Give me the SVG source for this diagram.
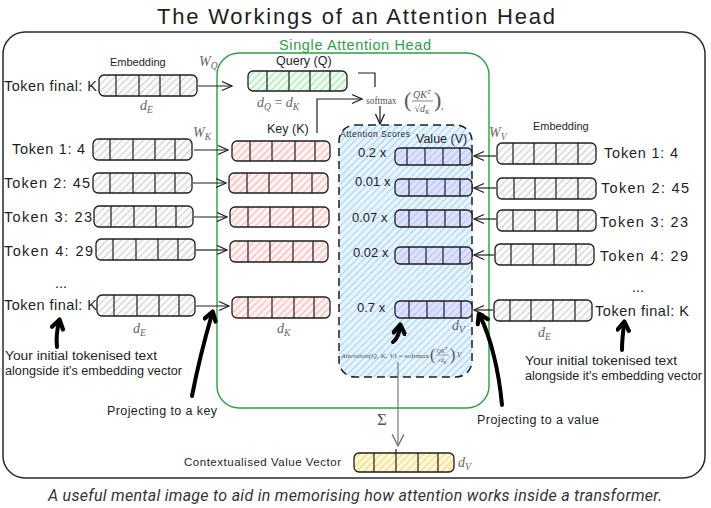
<svg xmlns="http://www.w3.org/2000/svg" width="711" height="508" viewBox="0 0 711 508">
<defs>
<pattern id="hg" width="5" height="5" patternUnits="userSpaceOnUse" patternTransform="rotate(45)"><rect width="5" height="5" fill="#fafafa"/><line x1="0.5" y1="0" x2="0.5" y2="5" stroke="#cfcfcf" stroke-width="1.1"/></pattern>
<pattern id="hr" width="5" height="5" patternUnits="userSpaceOnUse" patternTransform="rotate(45)"><rect width="5" height="5" fill="#fff3f3"/><line x1="0.5" y1="0" x2="0.5" y2="5" stroke="#ffafaf" stroke-width="1.1"/></pattern>
<pattern id="hq" width="5" height="5" patternUnits="userSpaceOnUse" patternTransform="rotate(45)"><rect width="5" height="5" fill="#effbf1"/><line x1="0.5" y1="0" x2="0.5" y2="5" stroke="#a3e4ad" stroke-width="1.1"/></pattern>
<pattern id="hv" width="5" height="5" patternUnits="userSpaceOnUse" patternTransform="rotate(45)"><rect width="5" height="5" fill="#dde3ff"/><line x1="0.5" y1="0" x2="0.5" y2="5" stroke="#b4bff8" stroke-width="1.1"/></pattern>
<pattern id="ha" width="5" height="5" patternUnits="userSpaceOnUse" patternTransform="rotate(45)"><rect width="5" height="5" fill="#e8f4fe"/><line x1="0.5" y1="0" x2="0.5" y2="5" stroke="#a2d2f6" stroke-width="1.1"/></pattern>
<pattern id="hy" width="5" height="5" patternUnits="userSpaceOnUse" patternTransform="rotate(45)"><rect width="5" height="5" fill="#fff8d8"/><line x1="0.5" y1="0" x2="0.5" y2="5" stroke="#f3d66b" stroke-width="1.1"/></pattern>
<marker id="ah" viewBox="0 0 12 12" refX="11" refY="6" markerWidth="12" markerHeight="12" markerUnits="userSpaceOnUse" orient="auto"><path d="M1,1.5 L11,6 L1,10.5" fill="none" stroke="#1e1e1e" stroke-width="1.3"/></marker>
<marker id="ag" viewBox="0 0 12 12" refX="6" refY="11" markerWidth="14" markerHeight="16" markerUnits="userSpaceOnUse" orient="0"><path d="M1,1 L6,11 L11,1" fill="none" stroke="#777" stroke-width="1.2"/></marker>
<marker id="tk" viewBox="0 0 12 12" refX="7" refY="6" markerWidth="15" markerHeight="15" markerUnits="userSpaceOnUse" orient="auto"><path d="M2,1.5 L9,6 L2,10.5" fill="none" stroke="#000" stroke-width="3.4" stroke-linejoin="round" stroke-linecap="round"/></marker>
<style>
.t{font-family:"Liberation Sans",Arial,sans-serif;fill:#1e1e1e}
.tok{font-size:14.5px}
.sm{font-size:11px}
.lb{font-size:12.5px}
.an{font-size:12.5px}
.m{font-family:"Liberation Serif","Times New Roman",serif;font-style:italic;fill:#666;font-size:14px}
.mr{font-family:"Liberation Serif","Times New Roman",serif;fill:#555}
.box{stroke:#1e1e1e;stroke-width:1.3}
.dv{stroke:#1e1e1e;stroke-width:1.2}
.ar{stroke:#1e1e1e;stroke-width:1.2;fill:none}
.th{stroke:#000;stroke-width:4;fill:none;stroke-linecap:round}
</style>
</defs>
<rect width="711" height="508" fill="#ffffff"/>

<g id="title"><text class="t" x="356" y="24" font-size="22" text-anchor="middle" textLength="398" lengthAdjust="spacing">The Workings of an Attention Head</text></g>
<g id="frame"><rect x="3" y="32" width="702" height="446" rx="22" fill="none" stroke="#2a2a2a" stroke-width="1.5"/></g>
<g id="head"><rect x="217" y="53" width="272" height="355" rx="22" fill="none" stroke="#2f9e44" stroke-width="1.4"/>
<text class="t" x="355" y="50" font-size="14.5" text-anchor="middle" style="fill:#2f9e44" textLength="152" lengthAdjust="spacing">Single Attention Head</text></g>

<g id="attention-scores"><rect x="339" y="125" width="133" height="252" rx="16" fill="url(#ha)" stroke="#1e1e1e" stroke-width="1.5" stroke-dasharray="8 5"/>
<text class="t" x="340" y="137" font-size="8.5" textLength="70" lengthAdjust="spacing">Attention Scores</text>
<text class="t" x="416" y="143" font-size="12.5">Value (V)</text>
<text class="t" x="358" y="157" font-size="13">0.2 x</text>
<text class="t" x="355" y="186" font-size="13">0.01 x</text>
<text class="t" x="352" y="222" font-size="13">0.07 x</text>
<text class="t" x="353" y="257" font-size="13">0.02 x</text>
<text class="t" x="357" y="312" font-size="13">0.7 x</text>
<text class="mr" x="341" y="358" font-size="7" textLength="88" lengthAdjust="spacingAndGlyphs"><tspan font-style="italic">Attention(Q, K, V)</tspan> = softmax</text>
<text class="mr" x="430" y="360" font-size="16">(</text>
<text class="mr" x="442" y="353" font-size="6" text-anchor="middle" font-style="italic">QK<tspan baseline-shift="3" font-size="4.5">T</tspan></text>
<line x1="436" y1="355" x2="449" y2="355" stroke="#555" stroke-width="0.5"/>
<text class="mr" x="442" y="362" font-size="6" text-anchor="middle">√<tspan font-style="italic">d<tspan baseline-shift="-1.5" font-size="4.5">K</tspan></tspan></text>
<text class="mr" x="450" y="360" font-size="16">)</text>
<text class="mr" x="457" y="358" font-size="7.5" font-style="italic">V</text>
</g>

<!-- Left embeddings -->
<g id="emb-top"><text class="t sm" x="110" y="66">Embedding</text>
<text class="t tok" x="4" y="91" textLength="93" lengthAdjust="spacing">Token final: K</text>
<rect class="box" x="99" y="75" width="98" height="21" rx="5" fill="url(#hg)"/>
<path class="dv" d="M116,75V96M139,75V96M160,75V96M180,75V96"/>
<text class="m" x="140" y="110">d<tspan font-size="9.5" baseline-shift="-3">E</tspan></text></g>

<g id="emb-l1"><text class="t tok" x="12" y="154" textLength="73" lengthAdjust="spacing">Token 1: 4</text>
<rect class="box" x="93" y="139" width="99" height="21" rx="5" fill="url(#hg)"/>
<path class="dv" d="M110,139V160M133,139V160M155,139V160M175,139V160"/></g>
<g id="emb-l2"><text class="t tok" x="4" y="188" textLength="86" lengthAdjust="spacing">Token 2: 45</text>
<rect class="box" x="93" y="173" width="99" height="20" rx="5" fill="url(#hg)"/>
<path class="dv" d="M110,173V193M133,173V193M155,173V193M175,173V193"/></g>
<g id="emb-l3"><text class="t tok" x="4" y="222" textLength="88" lengthAdjust="spacing">Token 3: 23</text>
<rect class="box" x="94" y="206" width="99" height="21" rx="5" fill="url(#hg)"/>
<path class="dv" d="M111,206V227M134,206V227M156,206V227M176,206V227"/></g>
<g id="emb-l4"><text class="t tok" x="4" y="256" textLength="89" lengthAdjust="spacing">Token 4: 29</text>
<rect class="box" x="96" y="239" width="99" height="21" rx="5" fill="url(#hg)"/>
<path class="dv" d="M113,239V260M136,239V260M158,239V260M178,239V260"/></g>
<g id="emb-lf"><text class="t tok" x="55" y="288">...</text>
<text class="t tok" x="4" y="310" textLength="93" lengthAdjust="spacing">Token final: K</text>
<rect class="box" x="97" y="295" width="98" height="21" rx="5" fill="url(#hg)"/>
<path class="dv" d="M114,295V316M137,295V316M159,295V316M179,295V316"/>
<text class="m" x="133" y="333">d<tspan font-size="9.5" baseline-shift="-3">E</tspan></text></g>

<!-- Query -->
<g id="query"><text class="t" x="276" y="65" font-size="12.5">Query (Q)</text>
<rect class="box" x="248" y="71" width="99" height="20" rx="5" fill="url(#hq)"/>
<path class="dv" d="M267,71V91M289,71V91M310,71V91M330,71V91"/>
<text class="m" x="257" y="107">d<tspan font-size="9.5" baseline-shift="-3">Q</tspan><tspan font-style="normal"> = </tspan>d<tspan font-size="9.5" baseline-shift="-3">K</tspan></text></g>

<g id="softmax"><text class="mr" x="366" y="104" font-size="9.5">softmax</text>
<text class="mr" x="404" y="107" font-size="22">(</text>
<text class="mr" x="422" y="98" font-size="10" text-anchor="middle" font-style="italic">QK<tspan baseline-shift="4" font-size="7">T</tspan></text>
<line x1="412" y1="101" x2="433" y2="101" stroke="#555" stroke-width="0.7"/>
<text class="mr" x="422" y="112" font-size="10" text-anchor="middle">√<tspan font-style="italic">d<tspan baseline-shift="-2" font-size="7">K</tspan></tspan></text>
<text class="mr" x="434" y="107" font-size="22">)</text>
<text class="mr" x="441" y="109" font-size="10">,</text></g>

<!-- Keys -->
<g id="key-1"><text class="t" x="267" y="133" font-size="12.5">Key (K)</text>
<rect class="box" x="232" y="141" width="98" height="20" rx="5" fill="url(#hr)"/>
<path class="dv" d="M250,141V161M272,141V161M295,141V161M315,141V161"/></g>
<g id="key-2"><rect class="box" x="229" y="173" width="99" height="20" rx="5" fill="url(#hr)"/>
<path class="dv" d="M247,173V193M269,173V193M292,173V193M312,173V193"/></g>
<g id="key-3"><rect class="box" x="230" y="207" width="99" height="20" rx="5" fill="url(#hr)"/>
<path class="dv" d="M248,207V227M270,207V227M293,207V227M313,207V227"/></g>
<g id="key-4"><rect class="box" x="230" y="241" width="98" height="21" rx="5" fill="url(#hr)"/>
<path class="dv" d="M248,241V262M270,241V262M293,241V262M313,241V262"/></g>
<g id="key-f"><rect class="box" x="232" y="297" width="98" height="21" rx="5" fill="url(#hr)"/>
<path class="dv" d="M248,297V318M272,297V318M294,297V318M314,297V318"/>
<text class="m" x="277" y="333">d<tspan font-size="9.5" baseline-shift="-3">K</tspan></text></g>

<!-- Values -->
<g id="val-1"><rect class="box" x="395" y="148" width="77" height="17" rx="5" fill="url(#hv)"/>
<path class="dv" d="M407,148V165M425,148V165M443,148V165M460,148V165"/></g>
<g id="val-2"><rect class="box" x="395" y="179" width="77" height="17" rx="5" fill="url(#hv)"/>
<path class="dv" d="M409,179V196M427,179V196M445,179V196M460,179V196"/></g>
<g id="val-3"><rect class="box" x="395" y="210" width="77" height="17" rx="5" fill="url(#hv)"/>
<path class="dv" d="M409,210V227M427,210V227M445,210V227M460,210V227"/></g>
<g id="val-4"><rect class="box" x="395" y="247" width="77" height="17" rx="5" fill="url(#hv)"/>
<path class="dv" d="M409,247V264M426,247V264M443,247V264M460,247V264"/></g>
<g id="val-f"><rect class="box" x="395" y="301" width="77" height="17" rx="5" fill="url(#hv)"/>
<path class="dv" d="M409,301V318M427,301V318M444,301V318M461,301V318"/>
<text class="m" x="452" y="330">d<tspan font-size="9.5" baseline-shift="-3">V</tspan></text></g>

<!-- Right embeddings -->
<g id="emb-r1"><text class="t sm" x="533" y="130">Embedding</text>
<rect class="box" x="497" y="143" width="99" height="21" rx="5" fill="url(#hg)"/>
<path class="dv" d="M513,143V164M534,143V164M556,143V164M578,143V164"/>
<text class="t tok" x="604" y="158" textLength="74" lengthAdjust="spacing">Token 1: 4</text></g>
<g id="emb-r2"><rect class="box" x="497" y="178" width="99" height="21" rx="5" fill="url(#hg)"/>
<path class="dv" d="M514,178V199M535,178V199M556,178V199M578,178V199"/>
<text class="t tok" x="601" y="193" textLength="88" lengthAdjust="spacing">Token 2: 45</text></g>
<g id="emb-r3"><rect class="box" x="497" y="210" width="99" height="21" rx="5" fill="url(#hg)"/>
<path class="dv" d="M513,210V231M535,210V231M557,210V231M578,210V231"/>
<text class="t tok" x="600" y="227" textLength="88" lengthAdjust="spacing">Token 3: 23</text></g>
<g id="emb-r4"><rect class="box" x="495" y="244" width="99" height="21" rx="5" fill="url(#hg)"/>
<path class="dv" d="M511,244V265M533,244V265M554,244V265M576,244V265"/>
<text class="t tok" x="600" y="261" textLength="88" lengthAdjust="spacing">Token 4: 29</text></g>
<g id="emb-rf"><text class="t tok" x="632" y="292">...</text>
<rect class="box" x="494" y="300" width="98" height="21" rx="5" fill="url(#hg)"/>
<path class="dv" d="M510,300V321M531,300V321M553,300V321M575,300V321"/>
<text class="t tok" x="595" y="316" textLength="94" lengthAdjust="spacing">Token final: K</text>
<text class="m" x="538" y="337">d<tspan font-size="9.5" baseline-shift="-3">E</tspan></text></g>

<!-- Output -->
<g id="context-vector"><text class="t" x="184" y="466" font-size="11.5" textLength="157" lengthAdjust="spacing">Contextualised Value Vector</text>
<rect class="box" x="354" y="453" width="100" height="19" rx="5" fill="url(#hy)"/>
<path class="dv" d="M374,453V472M396,449V472M418,453V472M438,453V472"/>
<text class="m" x="458" y="467">d<tspan font-size="9.5" baseline-shift="-3">V</tspan></text></g>

<!-- Annotations -->
<g id="note-left"><text class="t an" x="5" y="360" textLength="152" lengthAdjust="spacingAndGlyphs">Your initial tokenised text</text><text class="t an" x="5" y="375" textLength="177" lengthAdjust="spacingAndGlyphs">alongside it's embedding vector</text></g>
<g id="note-right"><text class="t an" x="525" y="365" textLength="152" lengthAdjust="spacingAndGlyphs">Your initial tokenised text</text><text class="t an" x="525" y="380" textLength="177" lengthAdjust="spacingAndGlyphs">alongside it's embedding vector</text></g>
<g id="note-key"><text class="t lb" x="107" y="415" textLength="110" lengthAdjust="spacing">Projecting to a key</text></g>
<g id="note-value"><text class="t lb" x="477" y="424" textLength="122" lengthAdjust="spacing">Projecting to a value</text></g>

<g id="connectors">
<path class="ar" d="M198,86H232" marker-end="url(#ah)"/>
<text class="m" x="199" y="66">W<tspan font-size="9.5" baseline-shift="-3">Q</tspan></text>
<text class="m" x="193" y="137">W<tspan font-size="9.5" baseline-shift="-3">K</tspan></text>
<text class="m" x="489" y="137">W<tspan font-size="9.5" baseline-shift="-3">V</tspan></text>
<path class="ar" d="M194,150H228" marker-end="url(#ah)"/>
<path class="ar" d="M193,183H226" marker-end="url(#ah)"/>
<path class="ar" d="M194,217H227" marker-end="url(#ah)"/>
<path class="ar" d="M196,250H227" marker-end="url(#ah)"/>
<path class="ar" d="M196,306H229" marker-end="url(#ah)"/>
<path class="ar" d="M496,156H474" marker-end="url(#ah)"/>
<path class="ar" d="M496,188H474" marker-end="url(#ah)"/>
<path class="ar" d="M496,219H474" marker-end="url(#ah)"/>
<path class="ar" d="M494,255H474" marker-end="url(#ah)"/>
<path class="ar" d="M493,310H474" marker-end="url(#ah)"/>
<path class="ar" d="M358,73H375V87"/>
<path class="ar" d="M317,133V99H362" marker-end="url(#ah)"/>
<path class="ar" d="M380,106V124" marker-end="url(#ah)"/>
<path d="M398,362V446" stroke="#777" stroke-width="1.2" fill="none" marker-end="url(#ag)"/>
<text class="mr" x="377" y="425" font-size="17" fill="#666">Σ</text>
<path class="th" d="M57,347C56,338 57,330 59,322" marker-end="url(#tk)"/>
<path class="th" d="M192,396C197,370 205,338 212,314" marker-end="url(#tk)"/>
<path class="th" d="M393,342C397,339 399,334 400,327" marker-end="url(#tk)"/>
<path class="th" d="M502,405C499,372 491,338 480,316" marker-end="url(#tk)"/>
<path class="th" d="M622,350C622,341 623,332 624,324" marker-end="url(#tk)"/>
</g>

<g id="caption"><text x="355" y="501" text-anchor="middle" font-family="Roboto,'Liberation Sans',sans-serif" font-style="italic" font-size="16" fill="#333" textLength="614" lengthAdjust="spacing">A useful mental image to aid in memorising how attention works inside a transformer.</text></g>
</svg>
